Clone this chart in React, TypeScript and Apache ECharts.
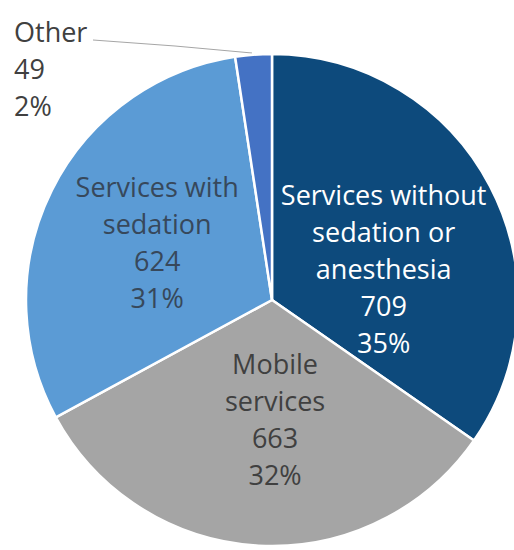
import React, { useEffect, useRef } from "react";
import * as echarts from "echarts";

const categories = [
  "Services without\nsedation or\nanesthesia",
  "Mobile\nservices",
  "Services with\nsedation",
  "Other",
];
const values = [709, 663, 624, 49];
const percents = ["35%", "32%", "31%", "2%"];
const colors = ["#0d4a7c", "#a5a5a5", "#5b9bd5", "#4472c4"];
const textColors = ["#ffffff", "#404040", "#37485b", "#404040"];

export default function App() {
  const ref = useRef<HTMLDivElement>(null);
  useEffect(() => {
    document.body.style.margin = "0";
    const chart = echarts.init(ref.current!, undefined, { renderer: "svg" });
    const shifts = [
      [0, 27],
      [10, -7],
      [-2, -2],
    ];
    chart.setOption({
      animation: false,
      series: [
        {
          type: "pie",
          center: [272, 300],
          radius: 246,
          startAngle: 90,
          clockwise: true,
          itemStyle: { borderColor: "#ffffff", borderWidth: 2.5 },
          label: {
            position: "inside",
            fontFamily: "Open Sans",
            fontSize: 27,
            lineHeight: 37,
            align: "center",
            formatter: (p: any) =>
              `${categories[p.dataIndex]}\n${values[p.dataIndex]}\n${percents[p.dataIndex]}`,
          },
          labelLayout: (params: any) => {
            const i = params.dataIndex;
            if (i === 3) {
              return {
                x: 14,
                y: 68,
                align: "left",
                verticalAlign: "middle",
                labelLinePoints: [
                  [252, 53],
                  [175, 46],
                  [93, 40],
                ],
              };
            }
            return { dx: shifts[i][0], dy: shifts[i][1] };
          },
          data: values.map((v, i) => ({
            value: v,
            name: categories[i],
            itemStyle: { color: colors[i] },
            label: {
              color: textColors[i],
              position: i === 3 ? "outside" : "inside",
            },
            labelLine:
              i === 3
                ? { show: true, lineStyle: { color: "#a6a6a6", width: 1 } }
                : { show: false },
          })),
        },
      ],
    });
    return () => chart.dispose();
  }, []);
  return <div ref={ref} style={{ width: 514, height: 550 }} />;
}
